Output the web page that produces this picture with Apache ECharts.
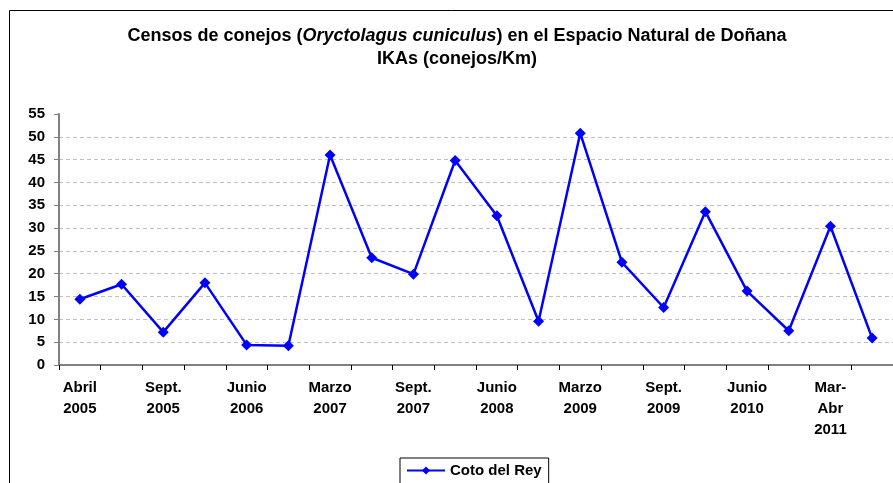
<!DOCTYPE html>
<html>
<head>
<meta charset="utf-8">
<script src="https://cdn.jsdelivr.net/npm/echarts@6/dist/echarts.min.js"></script>
<style>
html,body{margin:0;padding:0;background:#fff;}
#chart{width:893px;height:483px;}
</style>
</head>
<body>
<div id="chart"></div>
<script>
var categories = ['Abril\n2005','', 'Sept.\n2005','', 'Junio\n2006','', 'Marzo\n2007','', 'Sept.\n2007','', 'Junio\n2008','', 'Marzo\n2009','', 'Sept.\n2009','', 'Junio\n2010','', 'Mar-\nAbr\n2011',''];
var cotoDelRey = [14.4, 17.7, 7.2, 18.0, 4.4, 4.2, 46.0, 23.5, 19.9, 44.8, 32.7, 9.6, 50.8, 22.5, 12.6, 33.6, 16.2, 7.5, 30.4, 5.9];
var seriesName = 'Coto del Rey';
var yTicks = {min: 0, max: 55, interval: 5};

var chart = echarts.init(document.getElementById('chart'));
var font = 'Arial, "Liberation Sans", sans-serif';
chart.setOption({
  animation: false,
  backgroundColor: '#fff',
  graphic: [{
    type: 'rect', shape: {x: 9.5, y: 10.5, width: 1000, height: 1000},
    style: {fill: 'none', stroke: '#000', lineWidth: 1}, silent: true, z: -1
  }],
  title: {
    left: 457, top: 24, textAlign: 'center', padding: 0,
    text: '{a|Censos de conejos (}{i|Oryctolagus cuniculus}{a|) en el Espacio Natural de Doñana}\n{a|IKAs (conejos/Km)}',
    textStyle: {
      rich: {
        a: {fontFamily: font, fontWeight: 'bold', fontSize: 18, color: '#000', lineHeight: 23.5},
        i: {fontFamily: font, fontWeight: 'bold', fontStyle: 'italic', fontSize: 18, color: '#000', lineHeight: 23.5}
      }
    }
  },
  legend: {
    left: 400, top: 458,
    data: [seriesName],
    itemWidth: 38, itemHeight: 10,
    itemGap: 0,
    padding: [5, 7, 10, 6],
    borderColor: '#000', borderWidth: 1, borderRadius: 0,
    textStyle: {fontFamily: font, fontWeight: 'bold', fontSize: 15, color: '#000'}
  },
  grid: {left: 59, top: 114, right: 0, bottom: 118, containLabel: false},
  xAxis: {
    type: 'category',
    data: categories,
    boundaryGap: true,
    axisLine: {lineStyle: {color: '#808080', width: 2}},
    axisTick: {show: true, interval: 0, length: 5, lineStyle: {color: '#000', width: 1}},
    axisLabel: {interval: 0, margin: 12, fontFamily: font, fontWeight: 'bold', fontSize: 15, color: '#000', lineHeight: 21, align: 'center'},
    splitLine: {show: false}
  },
  yAxis: {
    type: 'value',
    min: yTicks.min, max: yTicks.max, interval: yTicks.interval,
    axisLine: {show: true, lineStyle: {color: '#808080', width: 2}},
    axisTick: {show: true, length: 5, lineStyle: {color: '#808080', width: 1}},
    axisLabel: {margin: 14, fontFamily: font, fontWeight: 'bold', fontSize: 15, color: '#000'},
    splitLine: {show: true, showMinLine: false, showMaxLine: false, lineStyle: {color: '#c0c0c0', type: [4, 3], width: 1}}
  },
  series: [{
    name: seriesName,
    type: 'line',
    data: cotoDelRey,
    symbol: 'diamond',
    symbolSize: 11,
    itemStyle: {color: '#0000ff'},
    lineStyle: {color: '#0000ff', width: 2.5}
  }]
});
</script>
</body>
</html>
